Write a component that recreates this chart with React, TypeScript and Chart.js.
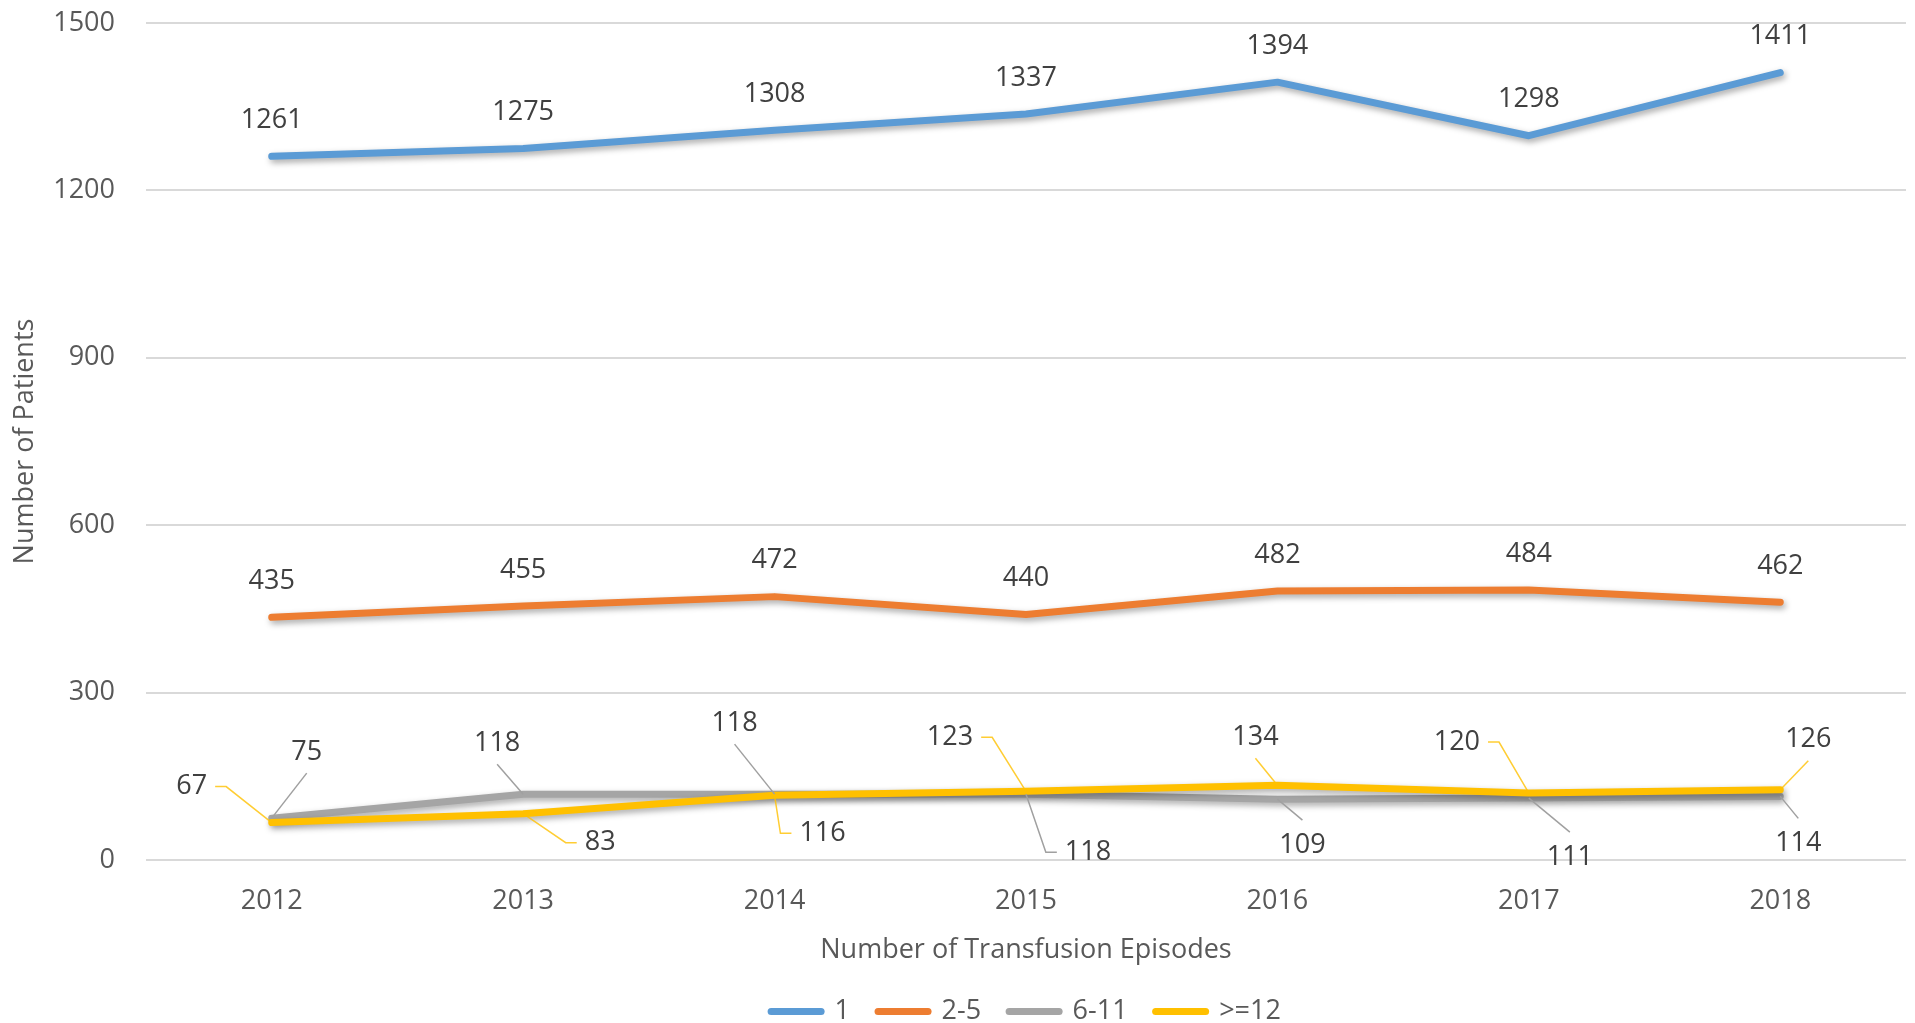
import React, { useEffect, useRef } from "react";
import { Chart, registerables } from "chart.js";

Chart.register(...registerables);

// ---- Data ----
const years = ["2012", "2013", "2014", "2015", "2016", "2017", "2018"];
const seriesNames = ["1", "2-5", "6-11", ">=12"];
const series1 = [1261, 1275, 1308, 1337, 1394, 1298, 1411];
const series2to5 = [435, 455, 472, 440, 482, 484, 462];
const series6to11 = [75, 118, 118, 118, 109, 111, 114];
const series12plus = [67, 83, 116, 123, 134, 120, 126];
const yMin = 0;
const yMax = 1500;
const yStep = 300;
const xTitle = "Number of Transfusion Episodes";
const yTitle = "Number of Patients";

// ---- Styles / label placement (not data) ----
const colors = ["#5b9bd5", "#ed7d31", "#a5a5a5", "#ffc000"];
const textColor = "#595959";
const labelColor = "#404040";
const FONT = "'Open Sans', sans-serif";
const FS = 27;

const aboveOffsets = [[0, -36], [0, -36], [0, -36], [0, -36], [0, -36], [0, -36], [0, -36]];
const offsets6to11 = [[35, -66], [-26, -51], [-40, -71], [62, 58], [25, 46], [41, 59], [18, 47]];
const offsets12plus = [[-80, -36], [77, 29], [48, 38], [-76, -54], [-22, -48], [-72, -51], [28, -50]];
const labelCfg = [
  { offsets: aboveOffsets, leader: null },
  { offsets: aboveOffsets, leader: null },
  { offsets: offsets6to11, leader: "#a0a0a0" },
  { offsets: offsets12plus, leader: "rgba(255,192,0,0.8)" },
];

const shadowPlugin = {
  id: "lineShadow",
  beforeDatasetDraw(chart: any) {
    const c = chart.ctx;
    c.save();
    c.shadowColor = "rgba(0,0,0,0.35)";
    c.shadowBlur = 6;
    c.shadowOffsetX = 2;
    c.shadowOffsetY = 3;
  },
  afterDatasetDraw(chart: any) {
    chart.ctx.restore();
  },
};

const dataLabelPlugin = {
  id: "dataLabels",
  afterDatasetsDraw(chart: any) {
    const ctx = chart.ctx;
    chart.data.datasets.forEach((ds: any, di: number) => {
      const meta = chart.getDatasetMeta(di);
      const cfg = labelCfg[di];
      ctx.save();
      ctx.font = `${FS}px ${FONT}`;
      ctx.textAlign = "center";
      ctx.textBaseline = "middle";
      meta.data.forEach((pt: any, i: number) => {
        const [dx, dy] = cfg.offsets[i];
        const lx = pt.x + dx;
        const ly = pt.y + dy;
        const text = String(ds.data[i]);
        if (cfg.leader) {
          const tw = ctx.measureText(text).width;
          ctx.beginPath();
          ctx.strokeStyle = cfg.leader;
          ctx.lineWidth = 1.5;
          if (Math.abs(dx) >= 45) {
            const s = dx < 0 ? 1 : -1;
            const x0 = lx + s * (tw / 2 + 8);
            ctx.moveTo(x0, ly);
            ctx.lineTo(x0 + s * 11, ly);
            ctx.lineTo(pt.x, pt.y);
          } else {
            const y0 = dy < 0 ? ly + 21 : ly - 25;
            ctx.moveTo(lx, y0);
            ctx.lineTo(pt.x, pt.y);
          }
          ctx.stroke();
        }
        ctx.fillStyle = labelColor;
        ctx.fillText(text, lx, ly);
      });
      ctx.restore();
    });
  },
};

export default function App() {
  const ref = useRef<HTMLCanvasElement>(null);
  useEffect(() => {
    Chart.defaults.font.family = FONT;
    Chart.defaults.font.size = FS;
    const allSeries = [series1, series2to5, series6to11, series12plus];
    const chart = new Chart(ref.current as HTMLCanvasElement, {
      type: "line",
      data: {
        labels: years,
        datasets: allSeries.map((d, i) => ({
          label: seriesNames[i],
          data: d,
          borderColor: colors[i],
          backgroundColor: colors[i],
          borderWidth: 7,
          borderCapStyle: "round",
          borderJoinStyle: "round",
          pointRadius: 0,
          pointHoverRadius: 0,
          tension: 0,
          fill: false,
          order: 3 - i,
          clip: false,
        })),
      },
      options: {
        animation: false,
        responsive: true,
        maintainAspectRatio: false,
        layout: { padding: { top: 23, right: 9, bottom: 0, left: 0 } },
        plugins: {
          tooltip: { enabled: false },
          legend: {
            position: "bottom",
            fullSize: false,
            labels: {
              usePointStyle: true,
              pointStyle: "line",
              pointStyleWidth: 50,
              padding: 28,
              color: textColor,
              font: { size: FS, family: FONT },
              sort: (a: any, b: any) => a.datasetIndex - b.datasetIndex,
              generateLabels: (chart: any) =>
                (Chart.defaults.plugins.legend.labels.generateLabels as any)(chart).map((l: any) => ({
                  ...l,
                  lineCap: "round",
                  lineJoin: "round",
                  lineWidth: 7,
                })),
            },
          },
        },
        scales: {
          x: {
            offset: true,
            grid: { display: false, drawTicks: false },
            border: { display: false },
            ticks: { padding: 25, color: textColor, font: { size: FS } },
            title: {
              display: true,
              text: xTitle,
              color: textColor,
              font: { size: FS },
              padding: { top: 0, bottom: 3 },
            },
            afterFit: (s: any) => {
              s.height = 110;
            },
          },
          y: {
            min: yMin,
            max: yMax,
            ticks: {
              stepSize: yStep,
              padding: 31,
              color: textColor,
              font: { size: FS },
              callback: (v: any) => String(v),
            },
            grid: { color: "#d9d9d9", lineWidth: 2, drawTicks: false },
            border: { display: false },
            title: {
              display: true,
              text: yTitle,
              color: textColor,
              font: { size: FS },
              padding: { top: 9, bottom: 0 },
            },
            afterFit: (s: any) => {
              s.width = 146;
              s.paddingTop = 0;
              s.paddingBottom = 0;
            },
          },
        },
      },
      plugins: [shadowPlugin, dataLabelPlugin],
    } as any);
    return () => chart.destroy();
  }, []);
  return (
    <div style={{ position: "fixed", left: 0, top: 0, width: 1915, height: 1035, background: "#fff" }}>
      <canvas ref={ref} />
    </div>
  );
}
